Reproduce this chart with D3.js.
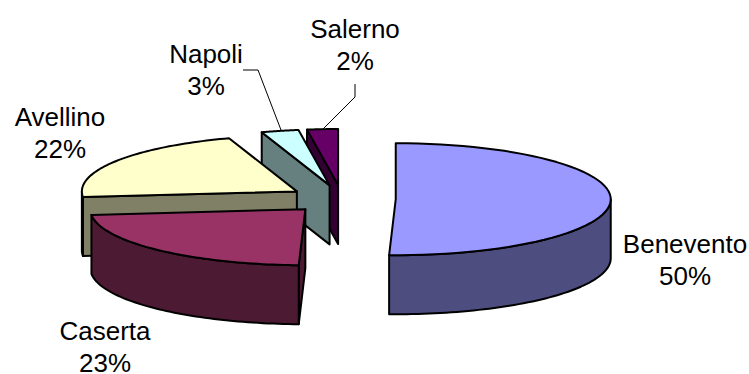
<!DOCTYPE html>
<html><head><meta charset="utf-8">
<script src="https://cdn.jsdelivr.net/npm/d3@7/dist/d3.min.js"></script>
<style>html,body{margin:0;background:#fff}svg{display:block}text{font-family:"Liberation Sans",Arial,sans-serif;font-size:26px;fill:#000;text-anchor:middle}</style>
</head><body><div id="c"></div>
<script>
const categories = ["Benevento","Caserta","Avellino","Napoli","Salerno"];
const values = [50.49,22.9,21.5,2.8,2.31];
const percentLabels = ["50%","23%","22%","3%","2%"];
const topColors = ["#9999FF","#993366","#FFFFCC","#CCFFFF","#660066"];
const sideColors = ["#4D4D80","#4D1A33","#808066","#668080","#330033"];
const labelCenters = [[685,244],[105,331],[60,117],[206,54],[355,29]];
const leaders = [null,null,null,[[243,70],[258,70],[281,130]],[[355,84],[355,97],[323,129]]];
const paintOrder = [4,3,2,0,1];

const W=749,H=374,cx=342,cy=199,rx=215,ry=56,depth=59,explode=0.25,lineGap=32;
const svg=d3.select("#c").append("svg").attr("width",W).attr("height",H);
const arcs=d3.pie().sort(null)(values);
const sx=d3.scaleLinear().domain([-1,1]).range([-rx,rx]);
const sy=d3.scaleLinear().domain([-1,1]).range([-ry,ry]);
const pt=(o,a,r=1,dz=0)=>[o[0]+sx(r*Math.sin(a)),o[1]+sy(-r*Math.cos(a))+dz];
const line=d3.line();
const arcPts=(o,a0,a1,dz=0)=>d3.range(0,61).map(i=>pt(o,a0+(a1-a0)*i/60,1,dz));
const g=svg.append("g").attr("stroke","#000").attr("stroke-width",2).attr("stroke-linejoin","round");

paintOrder.forEach(i=>{
  const a=arcs[i],mid=(a.startAngle+a.endAngle)/2;
  const apex=pt([cx,cy],mid,explode);
  const face=ang=>{
    const e=pt(apex,ang);
    g.append("path").attr("fill",sideColors[i])
      .attr("d",line([apex,e,[e[0],e[1]+depth],[apex[0],apex[1]+depth]])+"Z");
  };
  if(Math.sin(a.endAngle)>1e-6) face(a.endAngle);
  if(Math.sin(a.startAngle)<-1e-6) face(a.startAngle);
  const w0=Math.max(a.startAngle,Math.PI/2),w1=Math.min(a.endAngle,3*Math.PI/2);
  if(w1>w0){
    g.append("path").attr("fill",sideColors[i])
      .attr("d",line(arcPts(apex,w0,w1).concat(arcPts(apex,w1,w0,depth)))+"Z");
  }
  g.append("path").attr("fill",topColors[i])
    .attr("d",line([apex].concat(arcPts(apex,a.startAngle,a.endAngle)))+"Z");
});

leaders.forEach(l=>{ if(l) svg.append("path").attr("fill","none").attr("stroke","#000").attr("stroke-width",1).attr("d",line(l)); });

categories.forEach((c,i)=>{
  const [x,y]=labelCenters[i];
  svg.append("text").attr("x",x).attr("y",y).attr("dy","0.35em").text(c);
  svg.append("text").attr("x",x).attr("y",y+lineGap).attr("dy","0.35em").text(percentLabels[i]);
});
</script></body></html>
